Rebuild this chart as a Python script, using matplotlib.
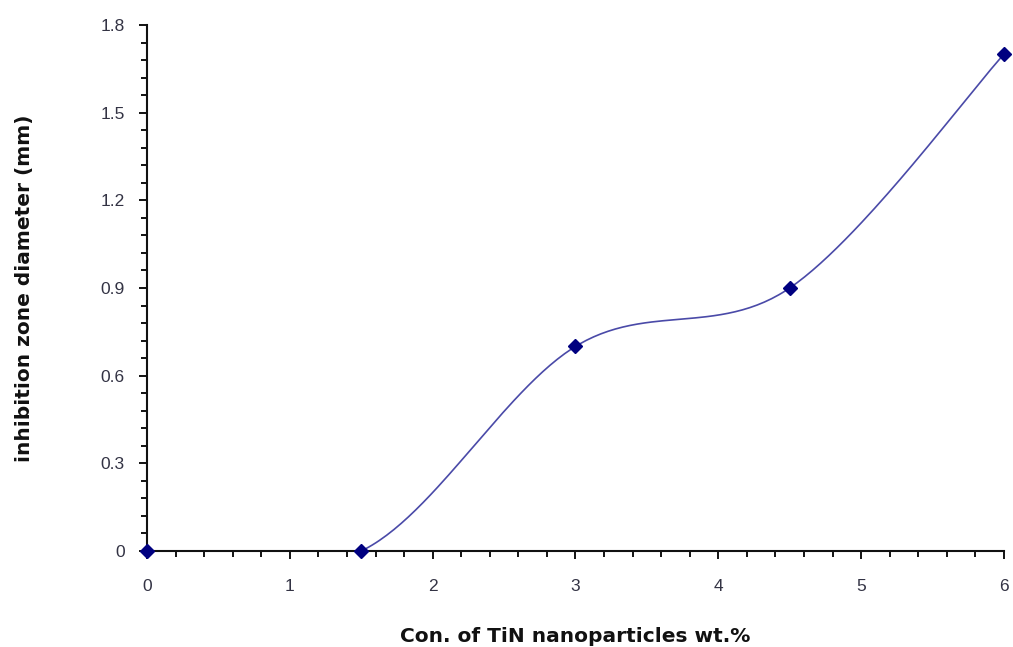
import numpy as np
import matplotlib.pyplot as plt
from matplotlib.ticker import MultipleLocator

# data
conc = [0, 1.5, 3, 4.5, 6]
zone = [0, 0, 0.7, 0.9, 1.7]


def excel_smooth(xs, ys, start=0, n=60):
    # bezier through the points, tangents from neighbours (like Excel's smoothed line)
    p = np.column_stack([xs, ys]).astype(float)
    pts = np.vstack([p[0], p, p[-1]])
    out = []
    for i in range(1 + start, len(pts) - 2):
        p0, p1, p2, p3 = pts[i - 1], pts[i], pts[i + 1], pts[i + 2]
        c1 = p1 + (p2 - p0) / 6
        c2 = p2 - (p3 - p1) / 6
        t = np.linspace(0, 1, n)[:, None]
        seg = ((1 - t) ** 3) * p1 + 3 * ((1 - t) ** 2) * t * c1 + 3 * (1 - t) * t ** 2 * c2 + t ** 3 * p2
        out.append(seg)
    seg = np.vstack(out)
    return seg[:, 0], seg[:, 1]


plt.rcParams['font.family'] = ['Liberation Sans', 'DejaVu Sans']

fig = plt.figure(figsize=(10.13, 6.47), dpi=100)
ax = fig.add_axes([0.1451, 0.1484, 0.8460, 0.8130])

# curve only drawn from 1.5 onwards
sx, sy = excel_smooth(conc, zone, start=1)
ax.plot(sx, sy, color='#4a4aa8', lw=1.2, zorder=2)
ax.plot(conc, zone, linestyle='none', marker='D', color='#000080', markersize=7, zorder=3, clip_on=False)

ax.set_xlim(0, 6)
ax.set_ylim(0, 1.8)
ax.xaxis.set_major_locator(MultipleLocator(1))
ax.xaxis.set_minor_locator(MultipleLocator(0.2))
ax.yaxis.set_minor_locator(MultipleLocator(0.06))
ax.set_yticks([0, 0.3, 0.6, 0.9, 1.2, 1.5, 1.8])
ax.set_yticklabels(['0', '0.3', '0.6', '0.9', '1.2', '1.5', '1.8'])

for s in ['top', 'right']:
    ax.spines[s].set_visible(False)
for s in ['left', 'bottom']:
    ax.spines[s].set_linewidth(1.5)
    ax.spines[s].set_color('#111111')

ax.tick_params(which='major', direction='out', length=6, width=1.3, labelsize=12.5,
               labelcolor='#333344')
ax.tick_params(axis='x', which='major', pad=14)
ax.tick_params(axis='y', which='major', pad=10)
ax.tick_params(which='minor', direction='out', length=4, width=1.3)

ax.set_xlabel('Con. of TiN nanoparticles wt.%', fontsize=14.5, fontweight='bold',
              family='DejaVu Sans', labelpad=24, color='#111111')
ax.set_ylabel('inhibition zone diameter (mm)', fontsize=14.5, fontweight='bold',
              family='DejaVu Sans', labelpad=48, color='#111111')

fig.savefig('out.png', dpi=100)
